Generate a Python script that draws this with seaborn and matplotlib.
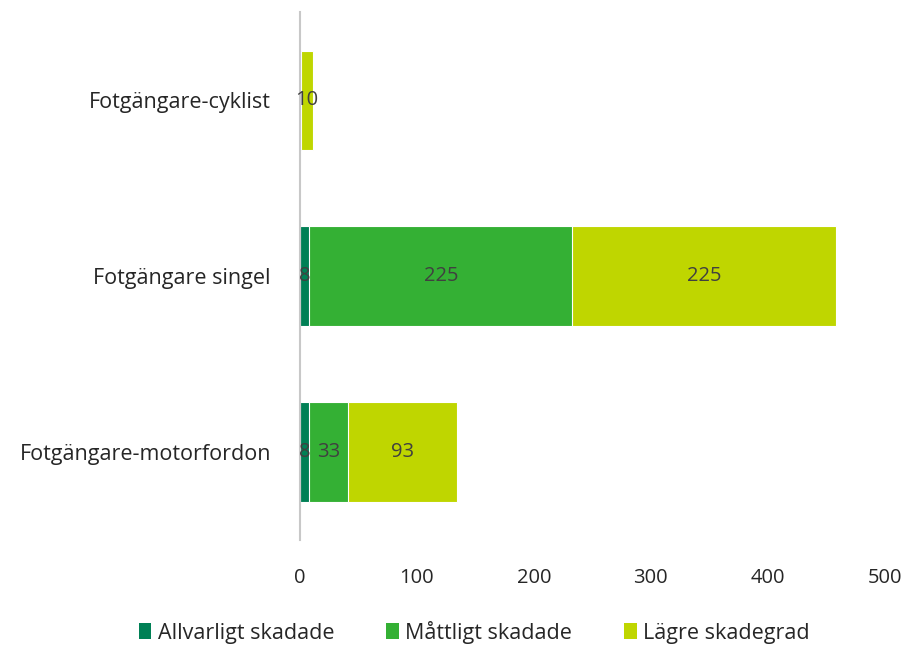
import numpy as np
import pandas as pd
import matplotlib
matplotlib.use("Agg")
import matplotlib.pyplot as plt
import seaborn as sns
from matplotlib.patches import Patch

categories = ["Fotgängare-cyklist", "Fotgängare singel", "Fotgängare-motorfordon"]
series = ["Allvarligt skadade", "Måttligt skadade", "Lägre skadegrad"]
allvarligt = [0, 8, 8]
mattligt = [1, 225, 33]
lagre = [10, 225, 93]
colors = ["#008055", "#34B034", "#BFD600"]
xticks = [0, 100, 200, 300, 400, 500]

sns.set_theme(style="white")
plt.rcParams["font.family"] = ["Open Sans", "DejaVu Sans"]

values = np.array([allvarligt, mattligt, lagre])
cum = values.cumsum(axis=0)

fig = plt.figure(figsize=(9.12, 6.45), dpi=100)
ax = fig.add_axes([0.329, 0.163, 0.641, 0.818])

# stack: draw the running totals from the largest down
for i in range(len(series) - 1, -1, -1):
    df = pd.DataFrame({"cat": categories, "val": cum[i]})
    sns.barplot(data=df, x="val", y="cat", color=colors[i], width=0.565,
                saturation=1, edgecolor="white", linewidth=0.8, ax=ax)

# value labels
for i in range(len(series)):
    for j, cat in enumerate(categories):
        v = values[i, j]
        if v < 2:
            continue
        center = cum[i, j] - v / 2
        ax.text(center, j, str(v), ha="center", va="center",
                fontsize=14.5, color="#404040")

ax.set_xlim(0, 500)
ax.set_ylim(2.5, -0.5)
ax.set_xticks(xticks)
ax.set_xticklabels([str(t) for t in xticks])
ax.set_xlabel("")
ax.set_ylabel("")
ax.tick_params(axis="both", length=0, colors="#262626")
ax.tick_params(axis="x", pad=20, labelsize=14.5)
ax.tick_params(axis="y", pad=21, labelsize=15.5)
for s in ["top", "right", "bottom"]:
    ax.spines[s].set_visible(False)
ax.spines["left"].set_color("#c8c8c8")
ax.spines["left"].set_linewidth(1.5)

handles = [Patch(facecolor=c, edgecolor="none") for c in colors]
fig.legend(handles, series, loc="center", bbox_to_anchor=(0.52, 0.02),
           ncol=3, frameon=False, fontsize=15.5, handlelength=0.6,
           handleheight=0.8, handletextpad=0.3, columnspacing=2.4,
           labelcolor="#262626")

fig.savefig("out.png", dpi=100)
